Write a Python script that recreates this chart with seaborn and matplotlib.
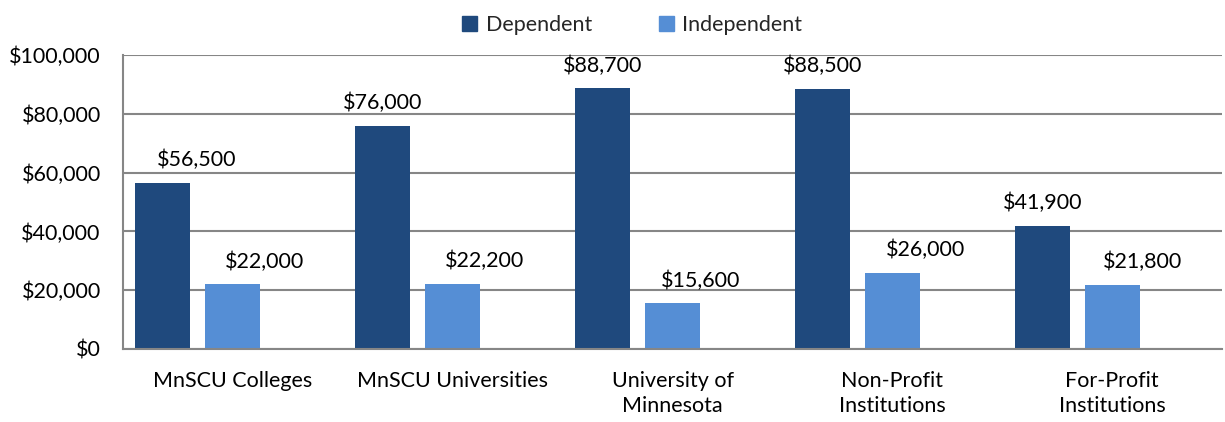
import pandas as pd
import seaborn as sns
import numpy as np
import matplotlib.pyplot as plt
from matplotlib.patches import Patch
from matplotlib.ticker import FuncFormatter

# data
categories = ['MnSCU Colleges', 'MnSCU Universities', 'University of\nMinnesota',
              'Non-Profit\nInstitutions', 'For-Profit\nInstitutions']
dependent = [56500, 76000, 88700, 88500, 41900]
independent = [22000, 22200, 15600, 26000, 21800]
# the original Excel chart kept room for an empty third series
blank = [0, 0, 0, 0, 0]

df = pd.DataFrame({
	'category': categories * 3,
	'status': ['Dependent'] * 5 + ['Independent'] * 5 + ['blank'] * 5,
	'value': dependent + independent + blank,
})

colors = {'Dependent': '#1F497D', 'Independent': '#558ED5', 'blank': '#FFFFFF'}
grid_color = '#868686'
fs = 15.5

sns.set_theme(style='white')
plt.rcParams['font.family'] = ['Lato', 'DejaVu Sans']

fig = plt.figure(figsize=(12.25, 4.22), dpi=100)
ax = fig.add_axes([0.1004, 0.173, 0.8972, 0.6967])

sns.barplot(data=df, x='category', y='value', hue='status', order=categories,
			hue_order=['Dependent', 'Independent', 'blank'], palette=colors, saturation=1,
			width=0.955, gap=0.214, errorbar=None, linewidth=0, legend=False, ax=ax)

ax.set_xlim(-0.5, 4.5)
ax.set_ylim(0, 100000)
ax.set_yticks(np.arange(0, 100001, 20000))
ax.yaxis.set_major_formatter(FuncFormatter(lambda v, p: '${:,.0f}'.format(v)))
ax.grid(axis='y', color=grid_color, linewidth=1.5)
ax.set_axisbelow(True)
ax.set_xlabel('')
ax.set_ylabel('')
for s in ['top', 'right']:
	ax.spines[s].set_visible(False)
for s in ['left', 'bottom']:
	ax.spines[s].set_color(grid_color)
	ax.spines[s].set_linewidth(1.5)
ax.tick_params(axis='y', length=0, pad=16, labelsize=fs, labelcolor='black')
ax.tick_params(axis='x', length=0, pad=16, labelsize=fs, labelcolor='black')
for t in ax.get_xticklabels():
	t.set_linespacing(1.3)

# value labels, nudged right the way they sit in the original
nudges = [[24, 0, 0, 0, 0], [23, 23, 20, 24, 22]]
for si, series in enumerate([dependent, independent]):
	for i, bar in enumerate(ax.containers[si]):
		ax.annotate('${:,.0f}'.format(series[i]),
					(bar.get_x() + bar.get_width() / 2, bar.get_height()),
					xytext=(nudges[si][i], 9), textcoords='offset points',
					ha='center', va='bottom', fontsize=fs, color='black')

handles = [Patch(color=colors['Dependent'], label='Dependent'),
		   Patch(color=colors['Independent'], label='Independent')]
fig.legend(handles=handles, loc='upper center', bbox_to_anchor=(0.516, 1.01), ncol=2,
		   frameon=False, fontsize=fs, handlelength=0.7, handleheight=0.7,
		   handletextpad=0.4, columnspacing=3.1)

fig.savefig('out.png', dpi=100)
